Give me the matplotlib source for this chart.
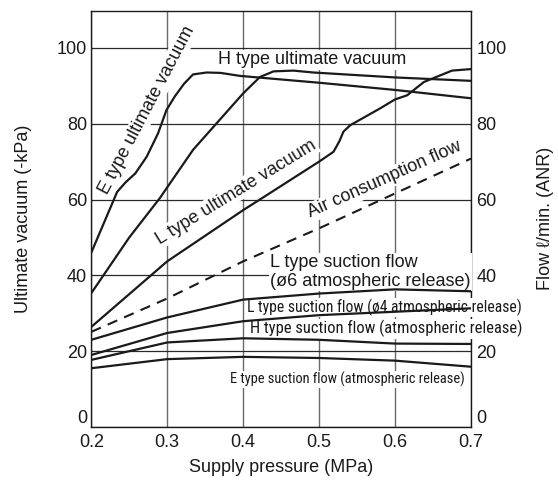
import matplotlib
matplotlib.use('Agg')
import matplotlib.pyplot as plt
from matplotlib import font_manager as fm
from matplotlib.font_manager import FontProperties

# ---------------- data ----------------
pressure = [0.2, 0.3, 0.4, 0.5, 0.6, 0.7]

e_ult_p = [0.2, 0.234, 0.245, 0.258, 0.273, 0.288, 0.299, 0.310, 0.322, 0.334,
           0.352, 0.37, 0.396, 0.5, 0.6, 0.7]
e_ult_v = [46.0, 62.0, 64.5, 66.9, 71.3, 77.5, 83.6, 87.2, 90.5, 93.0,
           93.5, 93.4, 92.6, 90.8, 88.9, 86.7]

h_ult_p = [0.2, 0.25, 0.29, 0.334, 0.365, 0.4, 0.422, 0.44, 0.466, 0.4925, 0.6, 0.7]
h_ult_v = [35.3, 50.0, 60.3, 73.1, 80.1, 88.0, 92.3, 93.8, 94.0, 93.5, 92.2, 91.3]

l_ult_p = [0.2, 0.3, 0.4, 0.422, 0.5, 0.519, 0.527, 0.532, 0.541, 0.58, 0.6,
           0.616, 0.638, 0.675, 0.7]
l_ult_v = [26.4, 43.7, 57.2, 60.0, 70.0, 72.6, 75.5, 77.9, 79.6, 84.0, 86.4,
           87.5, 91.0, 94.0, 94.4]

air_flow = [25.1, 33.9, 43.7, 52.4, 61.6, 70.8]
l6_suction = [23.0, 28.9, 33.6, 35.2, 36.3, 35.8]
l4_suction = [19.0, 24.8, 27.9, 29.5, 30.4, 31.3]
h_suction = [17.7, 22.3, 23.4, 23.0, 22.0, 21.9]
e_suction = [15.5, 17.9, 18.5, 18.2, 17.5, 15.9]

y_ticks = [0, 20, 40, 60, 80, 100]
x_tick_labels = ['0.2', '0.3', '0.4', '0.5', '0.6', '0.7']

# ---------------- fonts ----------------
BASE = ['Liberation Sans', 'DejaVu Sans']
plt.rcParams['font.family'] = BASE


def find_condensed():
    prefs = ['Liberation Sans Narrow', 'Arial Narrow', 'Liberation', 'Arial',
             'Roboto Condensed', 'Roboto', 'Noto Sans', 'Open Sans', 'Lato',
             'Inter', 'DejaVu Sans']
    best = None
    for f in fm.fontManager.ttflist:
        nm = f.name
        cond = ('Narrow' in nm or 'Condensed' in nm or
                str(f.stretch) in ('condensed', 'semi-condensed', 'extra-condensed'))
        if not cond:
            continue
        if 'Mono' in nm or 'Serif' in nm or 'CJK' in nm:
            continue
        if f.style != 'normal':
            continue
        w = f.weight
        if not (w in (400, 'normal', 'regular', 'book', 'medium', 500)):
            continue
        rank = len(prefs)
        for i, p in enumerate(prefs):
            if nm.startswith(p):
                rank = i
                break
        if best is None or rank < best[0]:
            best = (rank, f.fname)
    return best[1] if best else None


cond_file = find_condensed()
cond_fp = FontProperties(fname=cond_file) if cond_file else FontProperties(family=BASE)

fig = plt.figure(figsize=(5.58, 4.82), dpi=100)
ax = fig.add_axes([0.16362, 0.11411, 0.68047, 0.86369])
ax.set_xlim(0.2, 0.7)
ax.set_ylim(0, 109.8)

ax.set_xticks(pressure)
ax.set_xticklabels(x_tick_labels)
ax.set_yticks(y_ticks)
ax.tick_params(length=0, labelsize=13, colors='#1a1a1a')
ax.tick_params(axis='x', pad=5)
ax.tick_params(axis='y', pad=3)

ax.set_axisbelow(True)
ax.xaxis.grid(True, color='#6a6a6a', lw=1.0)
ax.yaxis.grid(True, color='#2a2a2a', lw=0.9)
for s in ax.spines.values():
    s.set_color('#1a1a1a')
    s.set_linewidth(1.0)

lk = dict(color='#1a1a1a', lw=1.6, zorder=4, solid_joinstyle='round', solid_capstyle='butt')
ax.plot(e_ult_p, e_ult_v, **lk)
ax.plot(h_ult_p, h_ult_v, **lk)
ax.plot(l_ult_p, l_ult_v, **lk)
ax.plot(pressure, air_flow, color='#1a1a1a', lw=1.5, zorder=4, ls=(0, (5, 3.6)))
ax.plot(pressure, l6_suction, **lk)
ax.plot(pressure, l4_suction, **lk)
ax.plot(pressure, h_suction, **lk)
ax.plot(pressure, e_suction, **lk)

bb = dict(boxstyle='square,pad=0.08', fc='white', ec='none')
tk = dict(color='#1a1a1a', zorder=3, bbox=bb, rotation_mode='anchor')

ax.text(0.2735, 83.6, 'E type ultimate vacuum', fontsize=13, rotation=62.3,
        ha='center', va='center', **tk)
ax.text(0.491, 96.9, 'H type ultimate vacuum', fontsize=13,
        ha='center', va='center', **tk)
ax.text(0.3906, 62.0, 'L type ultimate vacuum', fontsize=13, rotation=31.6,
        ha='center', va='center', **tk)
ax.text(0.5867, 65.2, 'Air consumption flow', fontsize=13, rotation=24.0,
        ha='center', va='center', **tk)
ax.text(0.4358, 40.9, 'L type suction flow\n(ø6 atmospheric release)', fontsize=13,
        ha='left', va='center', linespacing=1.15, **tk)

# narrow labels: fitted to the widths they take in the reference (pixels)
narrow_specs = [
    (0.405, 31.5, 'L type suction flow (ø4 atmospheric release)', 275),
    (0.4094, 25.9, 'H type suction flow (atmospheric release)', 272),
    (0.3827, 12.5, 'E type suction flow (atmospheric release)', 235),
]
narrow_texts = []
for x, y, s, w in narrow_specs:
    fp = cond_fp.copy()
    fp.set_size(12)
    t = ax.text(x, y, s, fontproperties=fp, ha='left', va='center', **tk)
    narrow_texts.append((t, w))

ax.set_xlabel('Supply pressure (MPa)', fontsize=13, color='#1a1a1a', labelpad=6)
ax.set_ylabel('Ultimate vacuum (-kPa)', fontsize=13, color='#1a1a1a')
ax.yaxis.set_label_coords(-0.156, 0.5)

ax2 = ax.twinx()
ax2.set_ylim(ax.get_ylim())
ax2.set_yticks(y_ticks)
ax2.tick_params(length=0, labelsize=13, pad=4, colors='#1a1a1a')
for s in ax2.spines.values():
    s.set_visible(False)
ax2.set_ylabel('Flow ℓ/min. (ANR)', fontsize=13, color='#1a1a1a')
ax2.yaxis.set_label_coords(1.174, 0.5)

ax.yaxis.get_major_ticks()[0].label1.set_verticalalignment('bottom')
ax2.yaxis.get_major_ticks()[0].label2.set_verticalalignment('bottom')

fig.canvas.draw()
r = fig.canvas.get_renderer()
for t, w in narrow_texts:
    cur = t.get_window_extent(renderer=r).width
    if cur > 0:
        t.set_fontsize(min(14.5, 12 * w / cur))

fig.savefig('out.png', dpi=100)
